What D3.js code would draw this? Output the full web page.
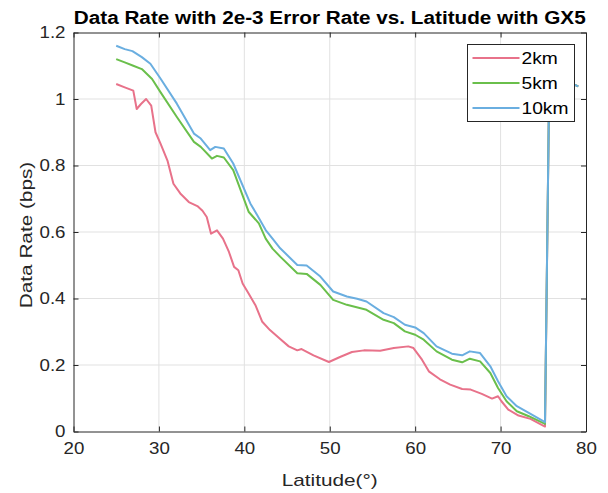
<!DOCTYPE html>
<html>
<head>
<meta charset="utf-8">
<script src="https://cdn.jsdelivr.net/npm/d3@7"></script>
<style>
  body { margin: 0; background: #fff; }
  svg { display: block; font-family: "Liberation Sans", Arial, sans-serif; }
</style>
</head>
<body>
<svg id="chart" width="608" height="493"></svg>
<script>
// data
const lat2 = [25, 26, 27, 27.4, 27.9, 28.5, 29.1, 29.6, 30.2, 31, 31.7, 32.5, 33.5, 34.5, 35.1, 35.6, 36.1, 36.8, 37.5, 38.2, 38.8, 39.3, 39.8, 40.5, 41.3, 42.1, 43, 44.2, 45.2, 46.2, 46.7, 48.1, 49.9, 51.2, 52.6, 54, 55.9, 57.5, 59.2, 59.8, 60.8, 61.6, 62.9, 64.1, 65.5, 66.5, 67.8, 69, 69.7, 70.1, 70.9, 72.1, 73.5, 75.2, 75.7, 77, 78, 79.1];
const rate2 = [1.045, 1.035, 1.025, 0.97, 0.985, 1.0, 0.98, 0.9, 0.865, 0.815, 0.745, 0.716, 0.69, 0.678, 0.664, 0.645, 0.595, 0.605, 0.58, 0.54, 0.495, 0.485, 0.445, 0.415, 0.38, 0.33, 0.305, 0.278, 0.256, 0.244, 0.248, 0.229, 0.209, 0.224, 0.239, 0.244, 0.243, 0.251, 0.256, 0.251, 0.216, 0.181, 0.157, 0.141, 0.128, 0.126, 0.113, 0.099, 0.106, 0.091, 0.066, 0.048, 0.038, 0.015, 1.06, 1.055, 1.05, 1.038];

const lat5 = [25, 26, 27, 28, 29.2, 30.2, 32.1, 34.1, 34.9, 36.2, 36.8, 37.6, 38.7, 40.5, 41.7, 42.5, 43.3, 44.2, 46.2, 47.3, 48.9, 50.4, 52, 54.3, 56.3, 57.5, 58.8, 60, 61, 62.5, 64.3, 65.5, 66.4, 67.6, 68.8, 69.7, 70.7, 71.9, 73.3, 75.2, 75.7, 77, 78, 79.1];
const rate5 = [1.12, 1.11, 1.1, 1.09, 1.06, 1.02, 0.946, 0.871, 0.856, 0.821, 0.829, 0.824, 0.786, 0.661, 0.626, 0.58, 0.55, 0.526, 0.476, 0.474, 0.441, 0.396, 0.381, 0.366, 0.336, 0.326, 0.301, 0.291, 0.276, 0.241, 0.216, 0.208, 0.219, 0.211, 0.176, 0.131, 0.091, 0.061, 0.046, 0.023, 1.06, 1.055, 1.05, 1.038];

const lat10 = [25, 26, 26.9, 28, 29, 30.2, 32.1, 34.1, 34.9, 36, 36.6, 37.6, 38.7, 40.7, 41.5, 42.5, 43.3, 44.2, 46.2, 47.3, 48.9, 50.4, 52, 53.2, 54.3, 56.3, 57.5, 58.8, 60, 61, 62.5, 64.3, 65.5, 66.4, 67.6, 68.8, 69.7, 70.7, 71.9, 73.3, 75.2, 75.7, 77, 78, 79.1];
const rate10 = [1.16, 1.15, 1.144, 1.126, 1.106, 1.061, 0.986, 0.896, 0.881, 0.846, 0.856, 0.851, 0.806, 0.686, 0.651, 0.606, 0.58, 0.551, 0.501, 0.499, 0.466, 0.421, 0.406, 0.399, 0.391, 0.356, 0.344, 0.321, 0.313, 0.296, 0.256, 0.234, 0.229, 0.241, 0.236, 0.196, 0.151, 0.106, 0.076, 0.056, 0.028, 1.06, 1.055, 1.05, 1.038];

const seriesNames = ["2km", "5km", "10km"];
const seriesColors = ["#e8728a", "#6abf4b", "#6aaee0"];
const xTicks = [20, 30, 40, 50, 60, 70, 80];
const yTicks = [0, 0.2, 0.4, 0.6, 0.8, 1, 1.2];

const series = [
  {name: seriesNames[0], color: seriesColors[0], pts: lat2.map((d, i) => [d, rate2[i]])},
  {name: seriesNames[1], color: seriesColors[1], pts: lat5.map((d, i) => [d, rate5[i]])},
  {name: seriesNames[2], color: seriesColors[2], pts: lat10.map((d, i) => [d, rate10[i]])}
];

const svg = d3.select("#chart"),
    margin = {top: 32.5, right: 22, bottom: 61.5, left: 73.5},
    width = 608 - margin.left - margin.right,
    height = 493 - margin.top - margin.bottom,
    g = svg.append("g").attr("transform", "translate(" + margin.left + "," + margin.top + ")");

const axisCol = "#262626";

// the reference text is drawn a bit wide, so stretch glyphs horizontally
function stretch(sel, k) {
  sel.each(function() {
    const w = this.getComputedTextLength();
    d3.select(this).attr("textLength", w * k).attr("lengthAdjust", "spacingAndGlyphs");
  });
}

const x = d3.scaleLinear().domain([20, 80]).range([0, width]);
const y = d3.scaleLinear().domain([0, 1.2]).range([height, 0]);

// grid
g.append("g").selectAll("line").data(xTicks.slice(1, -1)).enter().append("line")
    .attr("x1", d => x(d)).attr("x2", d => x(d))
    .attr("y1", 0).attr("y2", height)
    .attr("stroke", "#e1e1e1").attr("stroke-width", 1);
g.append("g").selectAll("line").data(yTicks.slice(1, -1)).enter().append("line")
    .attr("y1", d => y(d)).attr("y2", d => y(d))
    .attr("x1", 0).attr("x2", width)
    .attr("stroke", "#e1e1e1").attr("stroke-width", 1);

// lines
const line = d3.line().x(d => x(d[0])).y(d => y(d[1]));
g.append("g").selectAll("path").data(series).enter().append("path")
    .attr("d", d => line(d.pts))
    .attr("fill", "none")
    .attr("stroke", d => d.color)
    .attr("stroke-width", 2)
    .attr("stroke-linejoin", "round");

// axes (ticks inside, box)
function styleAxis(sel, hideText) {
  sel.select(".domain").attr("stroke", axisCol);
  sel.selectAll(".tick line").attr("stroke", axisCol);
  sel.selectAll(".tick text").attr("fill", axisCol).attr("font-size", "17px");
  if (hideText) sel.selectAll(".tick text").remove();
  else stretch(sel.selectAll(".tick text"), 1.1);
}
const fmt = d => d === 0 ? "0" : (d === 1 ? "1" : d3.format(".1f")(d));

g.append("g").attr("transform", "translate(0," + height + ")")
    .call(d3.axisBottom(x).tickValues(xTicks).tickSizeInner(-5).tickSizeOuter(0).tickPadding(10))
    .call(s => styleAxis(s, false));
g.append("g")
    .call(d3.axisTop(x).tickValues(xTicks).tickSizeInner(-5).tickSizeOuter(0))
    .call(s => styleAxis(s, true));
g.append("g")
    .call(d3.axisLeft(y).tickValues(yTicks).tickFormat(fmt).tickSizeInner(-5).tickSizeOuter(0).tickPadding(8))
    .call(s => styleAxis(s, false));
g.append("g").attr("transform", "translate(" + width + ",0)")
    .call(d3.axisRight(y).tickValues(yTicks).tickSizeInner(-5).tickSizeOuter(0))
    .call(s => styleAxis(s, true));

// labels
svg.append("text")
    .attr("x", margin.left + width / 2).attr("y", 24)
    .attr("text-anchor", "middle")
    .attr("font-size", "18px").attr("font-weight", "bold")
    .attr("fill", "#000")
    .text("Data Rate with 2e-3 Error Rate vs. Latitude with GX5")
    .call(s => stretch(s, 1.15));

svg.append("text")
    .attr("x", margin.left + width / 2).attr("y", 486)
    .attr("text-anchor", "middle")
    .attr("font-size", "17px").attr("fill", axisCol)
    .text("Latitude(°)")
    .call(s => stretch(s, 1.22));

svg.append("text")
    .attr("transform", "translate(31.5,235) rotate(-90)")
    .attr("text-anchor", "middle")
    .attr("font-size", "17px").attr("fill", axisCol)
    .text("Data Rate (bps)")
    .call(s => stretch(s, 1.22));

// legend
const legend = svg.append("g").attr("transform", "translate(467.5,44.5)");
legend.append("rect")
    .attr("width", 107).attr("height", 77)
    .attr("fill", "#fff").attr("stroke", axisCol).attr("stroke-width", 1);
const items = legend.selectAll("g.item").data(series).enter().append("g")
    .attr("class", "item")
    .attr("transform", (d, i) => "translate(0," + (13.5 + i * 25) + ")");
items.append("line")
    .attr("x1", 5).attr("x2", 52)
    .attr("stroke", d => d.color).attr("stroke-width", 2);
items.append("text")
    .attr("x", 54).attr("dy", "0.35em")
    .attr("font-size", "17px").attr("fill", "#000")
    .text(d => d.name)
    .call(s => stretch(s, 1.13));
</script>
</body>
</html>
